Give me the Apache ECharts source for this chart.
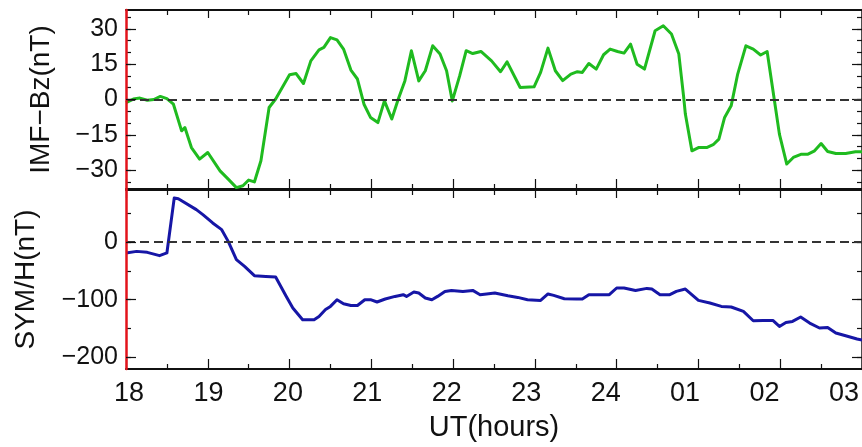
<!DOCTYPE html>
<html>
<head>
<meta charset="utf-8">
<script src="https://cdn.jsdelivr.net/npm/echarts@6/dist/echarts.min.js"></script>
<style>
  html, body { margin: 0; padding: 0; background: #fff; }
  #chart { width: 862px; height: 447px; }
</style>
</head>
<body>
<div id="chart"></div>
<script>
// IMF Bz (nT) against UT in decimal hours (24 = midnight, 27 = 03 UT next day)
const bzHours = [
  18.00, 18.09, 18.17, 18.26, 18.34, 18.42, 18.50, 18.58, 18.68, 18.72,
  18.80, 18.90, 19.00, 19.15, 19.25, 19.35, 19.43, 19.50, 19.57, 19.65,
  19.75, 19.83, 20.00, 20.08, 20.17, 20.26, 20.36, 20.42, 20.50, 20.58,
  20.66, 20.75, 20.83, 20.91, 20.99, 21.08, 21.16, 21.25, 21.33, 21.41,
  21.49, 21.58, 21.66, 21.75, 21.84, 21.92, 21.99, 22.08, 22.16, 22.24,
  22.34, 22.47, 22.58, 22.66, 22.82, 22.99, 23.07, 23.16, 23.25, 23.34,
  23.44, 23.52, 23.58, 23.66, 23.75, 23.84, 23.92, 24.01, 24.09, 24.17,
  24.25, 24.34, 24.47, 24.57, 24.67, 24.76, 24.82, 24.84, 24.92, 25.00,
  25.10, 25.18, 25.25, 25.32, 25.40, 25.48, 25.58, 25.67, 25.76, 25.84,
  25.93, 25.99, 26.08, 26.16, 26.26, 26.34, 26.42, 26.50, 26.58, 26.68,
  26.80, 26.92, 27.00
];
const bzValues = [
  -1.3, 0.2, 0.6, -0.3, 0.0, 1.3, 0.4, -2.0, -13.3, -11.9,
  -20.4, -25.3, -22.5, -30.3, -33.8, -37.4, -36.6, -34.2, -35.0, -26.0,
  -3.4, 0.2, 10.5, 11.0, 6.8, 16.4, 21.1, 22.1, 26.3, 25.3,
  21.4, 12.5, 8.7, -2.0, -7.6, -9.8, -0.6, -8.3, 0.2, 7.9,
  20.7, 7.9, 12.2, 22.8, 19.3, 12.2, -0.6, 10.0, 20.7, 19.5,
  20.4, 16.4, 11.8, 16.0, 5.1, 5.4, 11.5, 21.8, 12.2, 8.0,
  10.8, 11.8, 11.5, 15.3, 12.9, 19.0, 21.4, 20.4, 19.7, 23.5,
  15.0, 12.9, 29.2, 31.3, 27.8, 19.3, 0.8, -6.2, -21.8, -20.4,
  -20.4, -19.2, -16.8, -7.6, -2.7, 10.8, 22.8, 21.4, 18.9, 20.4,
  -0.6, -14.7, -27.4, -24.6, -23.2, -23.2, -21.8, -18.7, -22.1, -22.9,
  -22.9, -22.2, -22.2
];

// SYM/H index (nT) against UT in decimal hours
const symHours = [
  18.00, 18.13, 18.26, 18.41, 18.50, 18.52, 18.59, 18.64, 18.86, 18.94,
  19.06, 19.17, 19.25, 19.35, 19.45, 19.57, 19.71, 19.83, 19.96, 20.04,
  20.16, 20.30, 20.36, 20.44, 20.50, 20.58, 20.66, 20.75, 20.83, 20.92,
  20.99, 21.07, 21.17, 21.29, 21.39, 21.43, 21.52, 21.58, 21.66, 21.74,
  21.81, 21.90, 21.98, 22.12, 22.24, 22.33, 22.41, 22.51, 22.67, 22.79,
  22.91, 23.07, 23.16, 23.23, 23.36, 23.51, 23.58, 23.66, 23.91, 24.00,
  24.09, 24.23, 24.37, 24.43, 24.53, 24.65, 24.73, 24.84, 25.00, 25.14,
  25.28, 25.40, 25.55, 25.67, 25.79, 25.91, 25.99, 26.07, 26.15, 26.25,
  26.36, 26.48, 26.58, 26.68, 26.80, 26.94, 27.00
];
const symValues = [
  -19, -16.3, -18, -23.7, -19, -16.3, 76.3, 75, 56, 47.3,
  32.9, 21.3, 1, -30.7, -42.3, -58.4, -59.6, -60.7, -94.3, -114.4,
  -134.7, -134.7, -129, -117, -111.6, -100, -107, -110, -110, -100,
  -100, -104, -98.8, -94.3, -91.3, -94.3, -86.7, -88.4, -97, -100,
  -94.3, -85.6, -83.9, -85.6, -83.9, -91.3, -90.1, -88.4, -93, -96,
  -100, -101.2, -90.1, -92.5, -98.3, -98.8, -98.8, -91.3, -91.3, -79.7,
  -79.7, -83.9, -80.4, -81.5, -91.3, -91.3, -85.6, -81.5, -101.2, -105.7,
  -111.6, -112.6, -120.3, -136.4, -135.9, -135.9, -146.3, -139.3, -137.6, -130,
  -140.4, -149, -148, -157.7, -162.4, -168.1, -170
];

// Hour tick labels along the time axis
const hourTicks = [18, 19, 20, 21, 22, 23, 24, 25, 26, 27];
const hourLabels = ['18', '19', '20', '21', '22', '23', '24', '01', '02', '03'];

// Y-axis tick positions
const bzLabelTicks = [-30, -15, 0, 15, 30];
const bzMinorTicks = [-35, -30, -25, -20, -15, -10, -5, 0, 5, 10, 15, 20, 25, 30, 35];
const symLabelTicks = [-200, -100, 0];
const symMinorTicks = [-200, -150, -100, -50, 0, 50];

const FONT = 'Liberation Sans, Arial, Helvetica, sans-serif';
const INK = '#111';
const RED = '#e3131b';
const GREEN = '#1fbb1f';
const BLUE = '#1616a6';

const bzExtent = [-38, 38];
const symExtent = [-220, 90];
const tExtent = [18, 27];

function pairs(xs, ys) { return xs.map((x, i) => [x, ys[i]]); }

function timeAxis(grid, position, majorLen, minorLen, extra) {
  return Object.assign({
    type: 'value', gridIndex: grid, position: position,
    min: tExtent[0], max: tExtent[1], interval: 1, z: 1,
    axisLine: { show: true, onZero: false, lineStyle: { color: INK, width: 2 } },
    axisTick: { show: true, inside: true, length: majorLen, lineStyle: { color: INK, width: 1.2 } },
    minorTick: { show: true, splitNumber: 2, length: minorLen, lineStyle: { color: INK, width: 1.2 } },
    axisLabel: { show: false },
    splitLine: { show: false }
  }, extra || {});
}

function valueAxis(grid, position, extent, ticks, len, opts) {
  opts = opts || {};
  return {
    type: 'value', gridIndex: grid, position: position,
    min: extent[0], max: extent[1],
    z: opts.line === RED ? 6 : 1,
    axisLine: opts.line
      ? { show: true, onZero: false, lineStyle: { color: opts.line, width: 2.5 } }
      : { show: false, onZero: false },
    axisTick: { show: true, inside: true, length: len, customValues: ticks, lineStyle: { color: INK, width: 1.2 } },
    axisLabel: opts.labels ? {
      show: true, customValues: opts.labels, margin: 8,
      fontFamily: FONT, fontSize: 25, color: INK,
      formatter: v => (v < 0 ? '\u2212' + Math.abs(v) : String(v))
    } : { show: false },
    splitLine: { show: false },
    name: opts.name || '',
    nameLocation: 'middle',
    nameGap: opts.nameGap || 0,
    nameRotate: 90,
    nameTextStyle: { fontFamily: FONT, fontSize: 28, color: INK }
  };
}

const zeroLine = {
  symbol: 'none', silent: true, animation: false,
  label: { show: false },
  lineStyle: { type: [9, 5], color: '#333', width: 2 },
  data: [{ yAxis: 0 }]
};

const option = {
  animation: false,
  backgroundColor: '#fff',
  grid: [
    { left: 126, right: -5, top: 10, height: 179 },
    { left: 126, right: -5, top: 190, height: 179 },
    { left: 129, right: 13, top: 190, height: 179 }
  ],
  xAxis: [
    timeAxis(0, 'bottom', 10, 5),
    timeAxis(0, 'top', 8, 5),
    timeAxis(1, 'bottom', 10, 5, {
      name: 'UT(hours)', nameLocation: 'middle', nameGap: 44,
      nameTextStyle: { fontFamily: FONT, fontSize: 29, color: INK }
    }),
    timeAxis(1, 'top', 8, 5),
    {
      // hour labels printed under the lower panel
      type: 'value', gridIndex: 2, position: 'bottom',
      min: tExtent[0], max: tExtent[1], interval: 1,
      axisLine: { show: false }, axisTick: { show: false }, splitLine: { show: false },
      axisLabel: {
        show: true, margin: 11, fontFamily: FONT, fontSize: 27, color: INK,
        formatter: v => hourLabels[hourTicks.indexOf(Math.round(v))] || ''
      }
    }
  ],
  yAxis: [
    valueAxis(0, 'left', bzExtent, bzLabelTicks, 10, { line: RED, labels: bzLabelTicks, name: 'IMF\u2212Bz(nT)', nameGap: 71 }),
    valueAxis(0, 'left', bzExtent, bzMinorTicks, 5),
    valueAxis(0, 'right', bzExtent, bzLabelTicks, 10, { line: INK }),
    valueAxis(0, 'right', bzExtent, bzMinorTicks, 5),
    valueAxis(1, 'left', symExtent, symLabelTicks, 10, { line: RED, labels: symLabelTicks, name: 'SYM/H(nT)', nameGap: 86 }),
    valueAxis(1, 'left', symExtent, symMinorTicks, 5),
    valueAxis(1, 'right', symExtent, symLabelTicks, 10, { line: INK }),
    valueAxis(1, 'right', symExtent, symMinorTicks, 5),
    { type: 'value', gridIndex: 2, show: false, min: 0, max: 1 }
  ],
  series: [
    {
      name: 'IMF Bz', type: 'line', xAxisIndex: 0, yAxisIndex: 0,
      data: pairs(bzHours, bzValues),
      showSymbol: false, symbol: 'none',
      lineStyle: { color: GREEN, width: 3, join: 'round' },
      markLine: zeroLine, z: 3
    },
    {
      name: 'SYM/H', type: 'line', xAxisIndex: 2, yAxisIndex: 4,
      data: pairs(symHours, symValues),
      showSymbol: false, symbol: 'none',
      lineStyle: { color: BLUE, width: 3, join: 'round' },
      markLine: zeroLine, z: 3
    }
  ]
};

const chart = echarts.init(document.getElementById('chart'), null, { renderer: 'canvas' });
chart.setOption(option);
</script>
</body>
</html>
